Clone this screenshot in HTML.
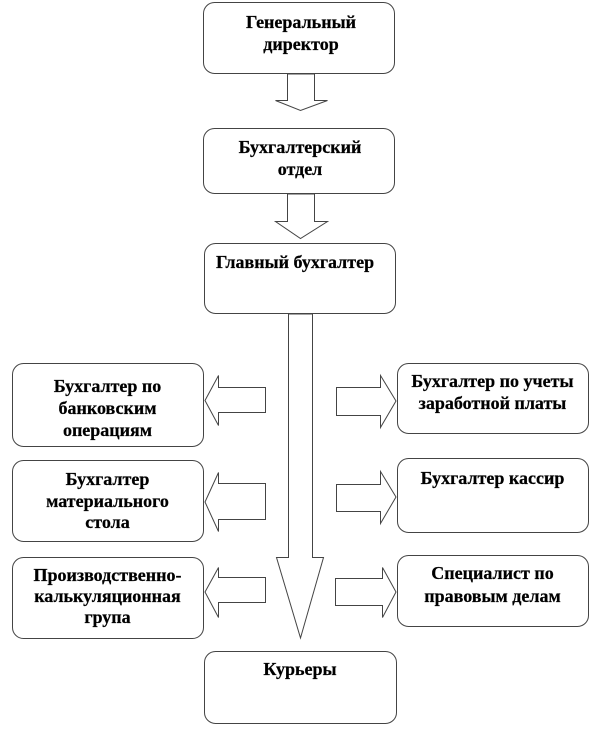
<!DOCTYPE html>
<html>
<head>
<meta charset="utf-8">
<style>
html,body{margin:0;padding:0;background:#fff;}
svg{display:block;}
text{font-family:"Liberation Serif","Noto Serif CJK SC",serif;font-weight:bold;font-size:18px;fill:#000;stroke:#000;stroke-width:0.25;}
</style>
</head>
<body>
<svg width="600" height="735" viewBox="0 0 600 735" xmlns="http://www.w3.org/2000/svg">
<g fill="#fff" stroke="#444" stroke-width="1">
  <!-- boxes -->
  <rect x="203.5" y="2.5" width="191" height="71" rx="11"/>
  <rect x="203.5" y="128.5" width="191" height="65" rx="11"/>
  <rect x="204.5" y="243.5" width="191" height="70" rx="11"/>
  <rect x="12.5" y="363.5" width="191" height="83" rx="11"/>
  <rect x="12.5" y="460.5" width="191" height="81" rx="11"/>
  <rect x="12.5" y="557.5" width="191" height="81" rx="11"/>
  <rect x="397.5" y="363.5" width="191" height="70" rx="11"/>
  <rect x="397.5" y="458.5" width="191" height="74" rx="11"/>
  <rect x="397.5" y="555.5" width="191" height="71" rx="11"/>
  <rect x="204.5" y="651.5" width="192" height="72" rx="11"/>

  <!-- down arrows -->
  <polygon points="287.5,74 314.5,74 314.5,100.5 327.5,100.5 300.5,110.5 275.5,100.5 287.5,100.5"/>
  <polygon points="287.5,194 314.5,194 314.5,221.5 327.5,221.5 300.5,238.5 275.5,221.5 287.5,221.5"/>
  <polygon points="288.5,314 312.5,314 312.5,557.5 323.5,557.5 300.5,638 276.5,557.5 288.5,557.5"/>

  <!-- left arrows -->
  <polygon points="205,400.5 218.5,375.5 218.5,387.5 265.5,387.5 265.5,412.5 218.5,412.5 218.5,425.5"/>
  <polygon points="205,502 218.5,472.5 218.5,483.5 265.5,483.5 265.5,519.5 218.5,519.5 218.5,531.5"/>
  <polygon points="205,592 218.5,567.5 218.5,577.5 265.5,577.5 265.5,602.5 218.5,602.5 218.5,617.5"/>

  <!-- right arrows -->
  <polygon points="396,401 380.5,375.5 380.5,387.5 336.5,387.5 336.5,415.5 380.5,415.5 380.5,427.5"/>
  <polygon points="396,497 380.5,471.5 380.5,484.5 336.5,484.5 336.5,511.5 380.5,511.5 380.5,523.5"/>
  <polygon points="396,592 382.5,567.5 382.5,578.5 335.5,578.5 335.5,605.5 382.5,605.5 382.5,617.5"/>
</g>

<g text-anchor="middle">
  <text x="301" y="28">Генеральный</text>
  <text x="301" y="50">директор</text>

  <text x="300" y="153">Бухгалтерский</text>
  <text x="300" y="175">отдел</text>

  <text x="107.5" y="392">Бухгалтер по</text>
  <text x="107.5" y="414">банковским</text>
  <text x="107.5" y="436">операциям</text>

  <text x="107.5" y="485">Бухгалтер</text>
  <text x="107.5" y="507">материального</text>
  <text x="107.5" y="528">стола</text>

  <text x="107.5" y="581">Производственно-</text>
  <text x="107.5" y="602">калькуляционная</text>
  <text x="107.5" y="623">група</text>

  <text x="492.5" y="387">Бухгалтер по учеты</text>
  <text x="492.5" y="409">заработной платы</text>

  <text x="492.5" y="484">Бухгалтер кассир</text>

  <text x="492.5" y="579">Специалист по</text>
  <text x="492.5" y="602">правовым делам</text>

  <text x="300" y="675">Курьеры</text>
</g>
<text x="216" y="268">Главный бухгалтер</text>
</svg>
</body>
</html>
